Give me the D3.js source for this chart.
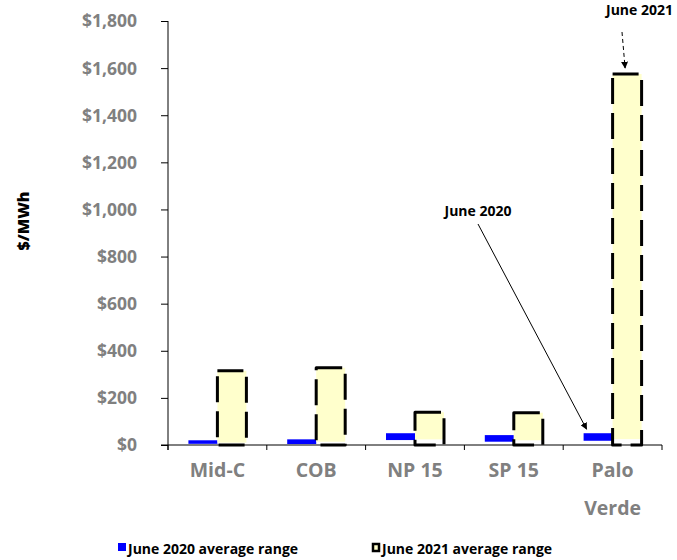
<!DOCTYPE html>
<html><head><meta charset="utf-8">
<script src="https://cdn.jsdelivr.net/npm/d3@7"></script>
<style>
html,body{margin:0;padding:0;background:#fff;}
svg{display:block;font-family:"Open Sans",sans-serif;}
</style></head>
<body>
<svg id="chart" width="677" height="560"></svg>
<script>
const categories = ["Mid-C", "COB", "NP 15", "SP 15", "Palo Verde"];
const june2020Low  = [5, 4, 21, 14, 18];
const june2020High = [20, 24, 50, 42, 50];
const june2021Low  = [10, 14, 24, 20, 25];
const june2021High = [315, 328, 139, 137, 1575];
const yTicks = [0, 200, 400, 600, 800, 1000, 1200, 1400, 1600, 1800];
const seriesNames = ["June 2020 average range", "June 2021 average range"];

const svg = d3.select("#chart");
const pLeft = 168, pRight = 662, pTop = 21, pBottom = 445;
const pad = 0.413;
const x = d3.scaleBand().domain(categories).range([pLeft, pRight]).paddingInner(pad).paddingOuter(pad/2);
const xs = d3.scaleBand().domain([0,1]).range([0, x.bandwidth()]);
const y = d3.scaleLinear().domain([0, 1800]).range([pBottom, pTop]);

const grey = "#808080";

// Y axis
const yAxis = d3.axisLeft(y).tickValues(yTicks).tickSize(7).tickPadding(24)
  .tickFormat(d => "$" + d3.format(",")(d));
const yg = svg.append("g").attr("transform", `translate(${pLeft},0)`).call(yAxis);
yg.select(".domain").remove();
yg.selectAll(".tick line").attr("stroke", "#000").attr("stroke-width", 1);
yg.selectAll(".tick text").attr("fill", grey).attr("font-size", 17.5).attr("font-weight", 700)
  .attr("font-family", "Open Sans").attr("dy", "0.34em");
svg.append("line").attr("x1", pLeft).attr("x2", pLeft).attr("y1", pTop).attr("y2", pBottom + 5)
  .attr("stroke", "#000").attr("stroke-width", 1);

// X axis line and ticks at boundaries
svg.append("line").attr("x1", pLeft - 7).attr("x2", pRight).attr("y1", pBottom).attr("y2", pBottom)
  .attr("stroke", "#000").attr("stroke-width", 1);
const step = x.step();
const bounds = categories.map(c => x(c) - step * pad / 2).concat([pRight]);
svg.selectAll(".xt").data(bounds).enter().append("line")
  .attr("x1", d => d).attr("x2", d => d).attr("y1", pBottom).attr("y2", pBottom + 5)
  .attr("stroke", "#000").attr("stroke-width", 1);

// category labels
const xl = svg.append("g");
categories.forEach(c => {
  const words = c === "Palo Verde" ? ["Palo", "Verde"] : [c];
  const t = xl.append("text").attr("x", x(c) + x.bandwidth()/2).attr("y", 477)
    .attr("text-anchor", "middle").attr("fill", grey).attr("font-size", 19.5).attr("font-weight", 700);
  words.forEach((w, i) => t.append("tspan").attr("x", x(c) + x.bandwidth()/2).attr("dy", i ? 38 : 0).text(w));
});

// 2020 bars (blue ranges)
svg.selectAll(".b20").data(categories).enter().append("rect")
  .attr("x", c => x(c) + xs(0)).attr("width", xs.bandwidth())
  .attr("y", (c, i) => y(june2020High[i]))
  .attr("height", (c, i) => y(june2020Low[i]) - y(june2020High[i]))
  .attr("fill", "#0000ff");

// 2021 bars (yellow ranges with dashed outline)
svg.selectAll(".b21").data(categories).enter().append("rect")
  .attr("x", c => x(c) + xs(1)).attr("width", xs.bandwidth())
  .attr("y", (c, i) => y(june2021High[i]))
  .attr("height", (c, i) => y(june2021Low[i]) - y(june2021High[i]))
  .attr("fill", "#ffffcc");
svg.selectAll(".o21").data(categories).enter().append("rect")
  .attr("x", c => x(c) + xs(1)).attr("width", xs.bandwidth())
  .attr("y", (c, i) => y(june2021High[i]))
  .attr("height", (c, i) => y(0) - y(june2021High[i]))
  .attr("fill", "none").attr("stroke", "#000").attr("stroke-width", 3)
  .attr("stroke-linejoin", "round").attr("stroke-dasharray", "26,9");

// Y title
svg.append("text").attr("transform", "translate(29,221) rotate(-90)")
  .attr("text-anchor", "middle").attr("font-size", 16).attr("font-weight", 800)
  .attr("font-family", "Open Sans").attr("fill", "#000").text("$/MWh");

// annotations
const defs = svg.append("defs");
defs.append("marker").attr("id", "ah").attr("viewBox", "0 0 10 10").attr("refX", 9).attr("refY", 5)
  .attr("markerWidth", 7).attr("markerHeight", 7).attr("orient", "auto")
  .append("path").attr("d", "M0,0 L10,5 L0,10 Z").attr("fill", "#000");
svg.append("text").attr("x", 673).attr("y", 15).attr("text-anchor", "end")
  .attr("font-size", 14).attr("font-weight", 700).attr("fill", "#000").text("June 2021");
const palo = "Palo Verde";
svg.append("line").attr("x1", 622).attr("y1", 32)
  .attr("x2", x(palo) + xs(1) + xs.bandwidth()/2 - 2).attr("y2", y(june2021High[4]) - 6)
  .attr("stroke", "#000").attr("stroke-width", 1).attr("stroke-dasharray", "4,3").attr("marker-end", "url(#ah)");
svg.append("text").attr("x", 478).attr("y", 216).attr("text-anchor", "middle")
  .attr("font-size", 14).attr("font-weight", 700).attr("fill", "#000").text("June 2020");
svg.append("line").attr("x1", 478).attr("y1", 224)
  .attr("x2", x(palo) + xs(0) + 3).attr("y2", y(june2020High[4]) - 4)
  .attr("stroke", "#000").attr("stroke-width", 1).attr("marker-end", "url(#ah)");

// legend
const lg = svg.append("g");
lg.append("rect").attr("x", 118).attr("y", 543).attr("width", 8).attr("height", 8).attr("fill", "#0000ff");
lg.append("text").attr("x", 128).attr("y", 554).attr("font-size", 14).attr("font-weight", 700).text(seriesNames[0]);
lg.append("rect").attr("x", 373).attr("y", 544).attr("width", 6).attr("height", 7)
  .attr("fill", "#ffffcc").attr("stroke", "#000").attr("stroke-width", 2.5);
lg.append("text").attr("x", 382).attr("y", 554).attr("font-size", 14).attr("font-weight", 700).text(seriesNames[1]);
</script>
</body></html>
